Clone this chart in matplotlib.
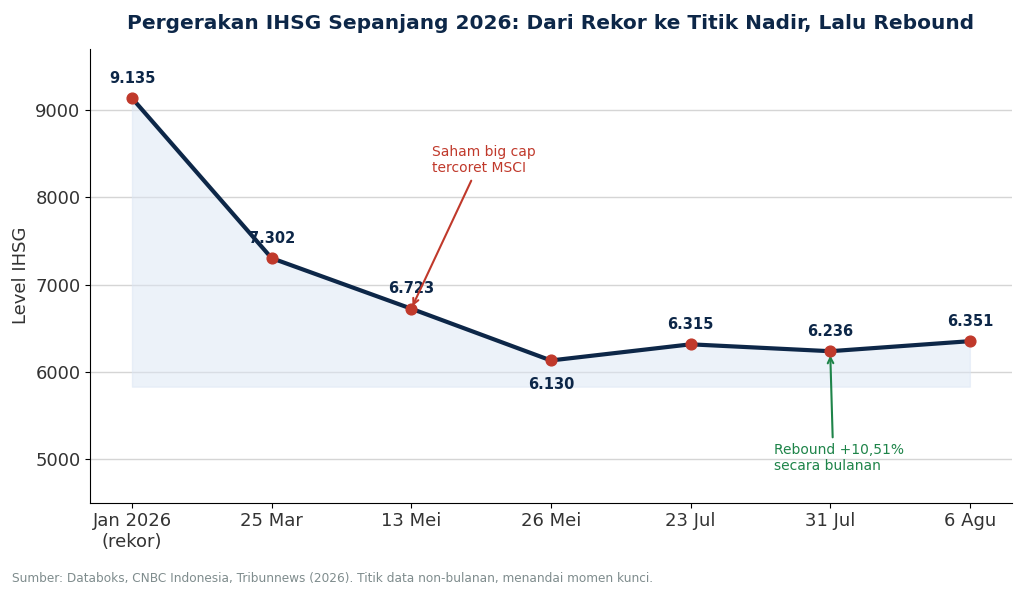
import numpy as np
import matplotlib.pyplot as plt

labels = ["Jan 2026\n(rekor)", "25 Mar", "13 Mei", "26 Mei", "23 Jul", "31 Jul", "6 Agu"]
ihsg = [9135, 7302, 6723, 6130, 6315, 6236, 6351]
value_text = ["9.135", "7.302", "6.723", "6.130", "6.315", "6.236", "6.351"]

navy = "#0d2748"
red = "#c0392b"
green = "#1e8449"
dark = "#333333"

fig, ax = plt.subplots(figsize=(10.24, 5.95), dpi=100)
fig.subplots_adjust(left=0.088, right=0.988, top=0.918, bottom=0.155)

x = np.arange(len(ihsg))
ax.fill_between(x, ihsg, min(ihsg) - 300, color="#dbe6f4", alpha=0.5, zorder=1)
ax.plot(x, ihsg, color=navy, lw=3, zorder=3)
ax.scatter(x, ihsg, color=red, s=60, zorder=4)

for i, (v, t) in enumerate(zip(ihsg, value_text)):
    if i == 3:
        ax.annotate(t, (i, v), xytext=(0, -12), textcoords="offset points",
                    ha="center", va="top", fontsize=10.5, fontweight="bold", color=navy)
    else:
        ax.annotate(t, (i, v), xytext=(0, 9), textcoords="offset points",
                    ha="center", va="bottom", fontsize=10.5, fontweight="bold", color=navy)

ax.annotate("Saham big cap\ntercoret MSCI", xy=(2, ihsg[2]), xytext=(2.15, 8250),
            fontsize=10, color=red, ha="left", va="bottom",
            arrowprops=dict(arrowstyle="->", color=red, lw=1.5,
                            relpos=(0.4, 0.0)))
ax.annotate("Rebound +10,51%\nsecara bulanan", xy=(5, ihsg[5]), xytext=(4.6, 4840),
            fontsize=10, color=green, ha="left", va="bottom",
            arrowprops=dict(arrowstyle="->", color=green, lw=1.5,
                            relpos=(0.45, 1.0), shrinkB=3))

ax.set_xticks(x)
ax.set_xticklabels(labels, fontsize=13, color=dark)
ax.tick_params(axis="y", labelsize=13, labelcolor=dark)
ax.set_xlim(-0.3, 6.3)
ax.set_ylim(4500, 9700)
ax.set_ylabel("Level IHSG", fontsize=13, color=dark)
ax.grid(axis="y", color="#d5d5d5", lw=1)
ax.set_axisbelow(True)
for s in ["top", "right"]:
    ax.spines[s].set_visible(False)

ax.set_title("Pergerakan IHSG Sepanjang 2026: Dari Rekor ke Titik Nadir, Lalu Rebound",
             fontsize=14.5, fontweight="bold", color=navy, pad=14)
fig.text(0.012, 0.022, "Sumber: Databoks, CNBC Indonesia, Tribunnews (2026). Titik data non-bulanan, menandai momen kunci.",
         fontsize=8.7, color="#7f8c8d")

fig.savefig("out.png", dpi=100)
